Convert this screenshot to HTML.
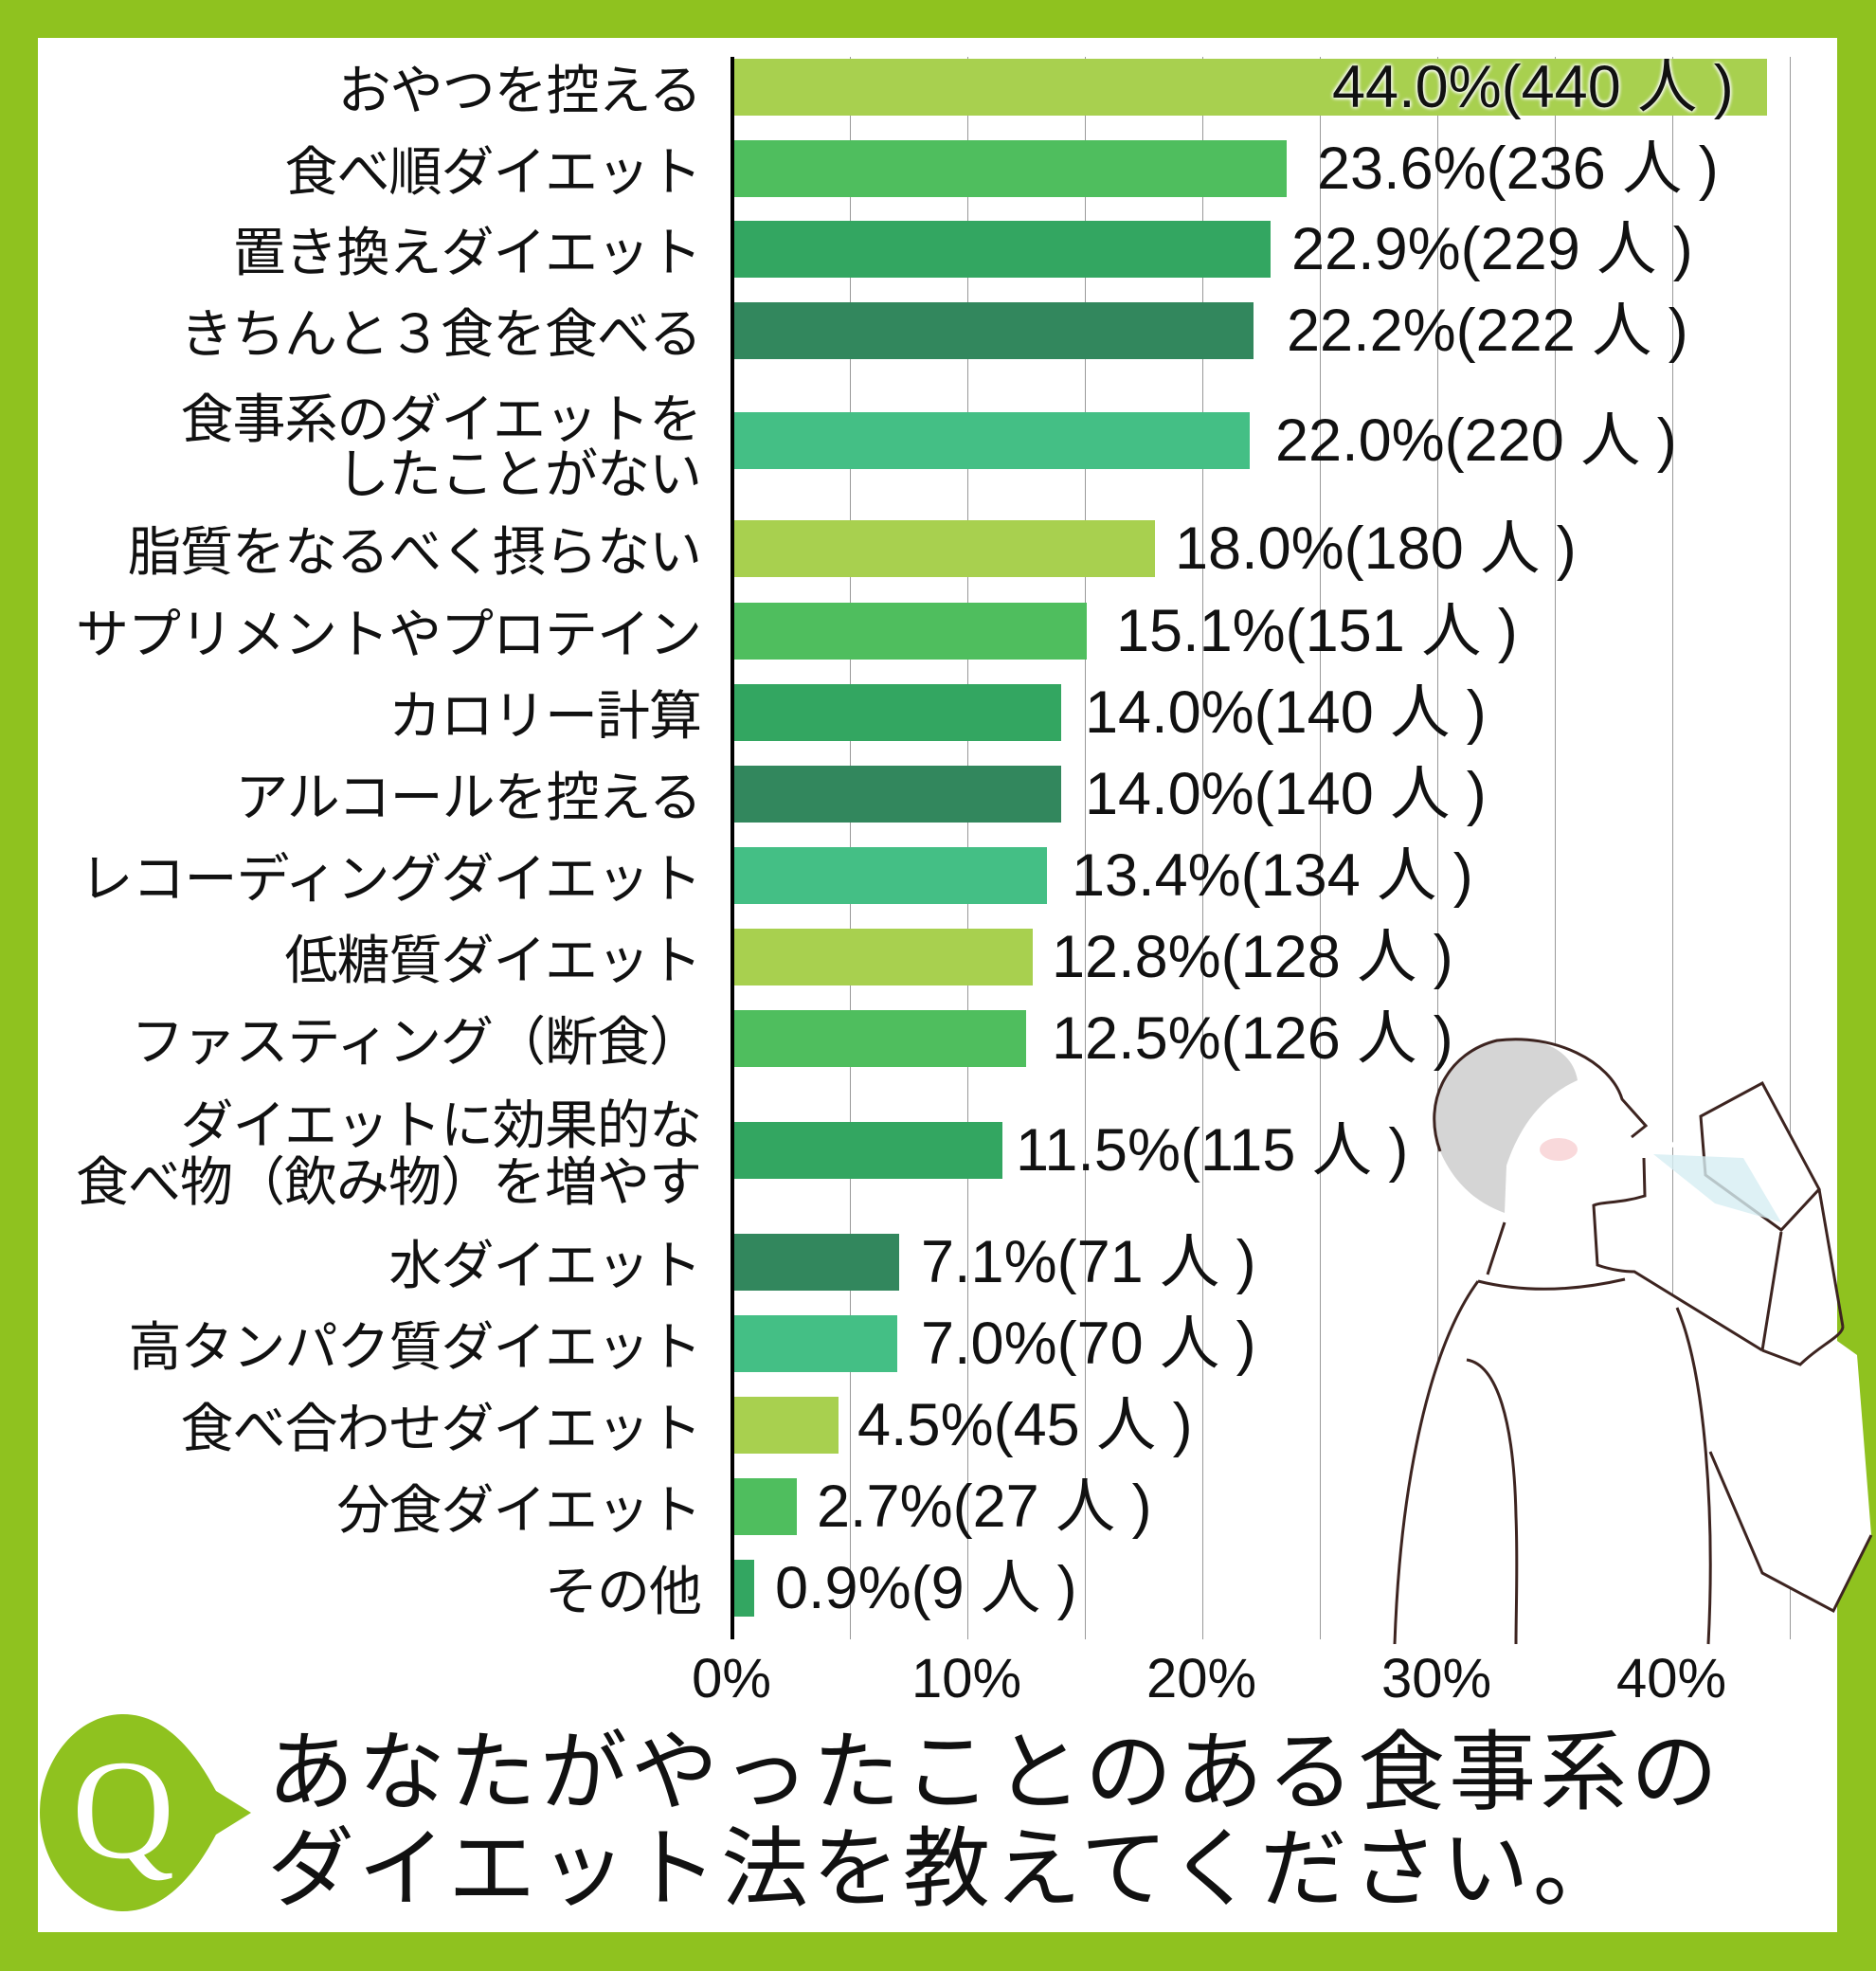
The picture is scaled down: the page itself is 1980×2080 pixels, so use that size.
<!DOCTYPE html>
<html><head><meta charset="utf-8"><style>
body{margin:0;width:1980px;height:2080px;background:#8fc21f;position:relative;overflow:hidden;font-family:"Liberation Sans","Noto Sans CJK JP",sans-serif}
#w{position:absolute;left:40px;top:40px;width:1899px;height:1999px;background:#fff}
.g{position:absolute;top:60px;height:1670px;width:1px;background:#999}
.b{position:absolute;left:775px;height:60px}
.l{position:absolute;right:1240px;font-family:"Noto Sans CJK JP",sans-serif;font-size:56px;line-height:60px;white-space:nowrap;color:#111;text-align:right;letter-spacing:-1px}
.v{position:absolute;font-family:"Liberation Sans","Noto Sans CJK JP",sans-serif;font-size:63px;line-height:60px;white-space:nowrap;color:#111}
.t{position:absolute;top:1742px;font-size:58px;line-height:60px;color:#111;width:160px;text-align:center}
</style></head><body>
<div id="w"></div>
<div class="g" style="left:897px"></div><div class="g" style="left:1021px"></div><div class="g" style="left:1145px"></div><div class="g" style="left:1269px"></div><div class="g" style="left:1393px"></div><div class="g" style="left:1517px"></div><div class="g" style="left:1641px"></div><div class="g" style="left:1765px"></div><div class="g" style="left:1889px"></div>

<div class="b" style="top:62px;width:1090px;background:#a8d04f"></div>
<div class="b" style="top:148px;width:583px;background:#4fbe5e"></div>
<div class="b" style="top:233px;width:566px;background:#33a661"></div>
<div class="b" style="top:319px;width:548px;background:#32875d"></div>
<div class="b" style="top:435px;width:544px;background:#44bf85"></div>
<div class="b" style="top:549px;width:444px;background:#a8d04f"></div>
<div class="b" style="top:636px;width:372px;background:#4fbe5e"></div>
<div class="b" style="top:722px;width:345px;background:#33a661"></div>
<div class="b" style="top:808px;width:345px;background:#32875d"></div>
<div class="b" style="top:894px;width:330px;background:#44bf85"></div>
<div class="b" style="top:980px;width:315px;background:#a8d04f"></div>
<div class="b" style="top:1066px;width:308px;background:#4fbe5e"></div>
<div class="b" style="top:1184px;width:283px;background:#33a661"></div>
<div class="b" style="top:1302px;width:174px;background:#32875d"></div>
<div class="b" style="top:1388px;width:172px;background:#44bf85"></div>
<div class="b" style="top:1474px;width:110px;background:#a8d04f"></div>
<div class="b" style="top:1560px;width:66px;background:#4fbe5e"></div>
<div class="b" style="top:1646px;width:21px;background:#33a661"></div>
<div style="position:absolute;left:771px;top:60px;width:4px;height:1670px;background:#000"></div>

<div class="l" style="top:62px">おやつを控える</div>
<div class="l" style="top:148px">食べ順ダイエット</div>
<div class="l" style="top:233px">置き換えダイエット</div>
<div class="l" style="top:319px">きちんと３食を食べる</div>
<div class="l" style="top:410px;line-height:58px">食事系のダイエットを<br>したことがない</div>
<div class="l" style="top:549px">脂質をなるべく摂らない</div>
<div class="l" style="top:636px">サプリメントやプロテイン</div>
<div class="l" style="top:722px">カロリー計算</div>
<div class="l" style="top:808px">アルコールを控える</div>
<div class="l" style="top:894px">レコーディングダイエット</div>
<div class="l" style="top:980px">低糖質ダイエット</div>
<div class="l" style="top:1066px">ファスティング（断食）</div>
<div class="l" style="top:1154px;line-height:60px">ダイエットに効果的な<br>食べ物（飲み物）を増やす</div>
<div class="l" style="top:1302px">水ダイエット</div>
<div class="l" style="top:1388px">高タンパク質ダイエット</div>
<div class="l" style="top:1474px">食べ合わせダイエット</div>
<div class="l" style="top:1560px">分食ダイエット</div>
<div class="l" style="top:1646px">その他</div>

<svg style="position:absolute;left:0;top:0" width="1980" height="2080">
<path d="M1472,1735 C1478,1560 1510,1420 1560,1352 L1588,1290 C1560,1270 1530,1250 1520,1215 C1500,1160 1530,1110 1580,1098 C1640,1090 1700,1120 1712,1160 L1737,1188 L1720,1200 L1735,1220 L1735,1262 L1682,1272 L1686,1335 L1725,1342 L1860,1420 L1880,1300 L1815,1255 L1840,1222 L1760,1210 L1795,1180 L1860,1143 L1918,1255 L1918,1400 L1960,1430 L1975,1620 L1935,1700 L1860,1660 L1805,1532 L1810,1735 Z" fill="#fff" stroke="none"/>
<path d="M1520,1215 C1500,1160 1530,1110 1580,1098 C1630,1092 1660,1110 1665,1140 C1620,1160 1600,1200 1590,1230 L1588,1280 C1560,1270 1535,1250 1520,1215 Z" fill="#d5d5d5"/>
<g fill="none" stroke="#3d2420" stroke-width="3">
<path d="M1520,1215 C1500,1160 1530,1110 1580,1098 C1640,1090 1700,1120 1712,1160 L1737,1188 L1722,1200"/>
<path d="M1735,1222 L1736,1262 C1710,1270 1690,1268 1682,1272 L1686,1335 C1700,1340 1715,1342 1725,1342 L1860,1425"/>
<path d="M1588,1290 L1570,1345 M1560,1352 C1510,1420 1478,1560 1472,1735"/>
<path d="M1560,1352 C1600,1362 1650,1365 1715,1350"/>
<path d="M1800,1240 L1795,1178 L1860,1143 L1920,1255 L1880,1298 Z"/>
<path d="M1860,1425 L1880,1300 M1920,1255 L1945,1400 M1860,1425 L1900,1440 C1920,1420 1945,1410 1945,1400"/>
<path d="M1805,1532 L1860,1660 L1935,1700 L1975,1620"/>
<path d="M1770,1380 C1800,1450 1810,1600 1803,1735 M1548,1435 C1580,1440 1598,1500 1600,1600 1602,1650 1600,1700 1600,1735"/>
</g>
<path d="M1745,1218 L1840,1222 L1880,1290 L1810,1270 Z" fill="#d6eef2" opacity="0.8"/>
<ellipse cx="1645" cy="1213" rx="20" ry="12" fill="#f6c9cc" opacity="0.7"/>
<path d="M42,1913 C42,1860 80,1809 130,1809 C180,1809 212,1860 228,1890 L265,1913 L228,1936 C212,1966 180,2017 130,2017 C80,2017 42,1966 42,1913 Z" fill="#8fc21f"/>
</svg>
<div style="position:absolute;left:60px;top:1835px;width:140px;text-align:center;font-family:'Liberation Serif',serif;font-size:150px;line-height:150px;color:#fff">Q</div>

<div class="v" style="top:62px;left:1406px;text-shadow:0 0 4px #fff,0 0 4px #fff,0 0 4px #fff">44.0%(440 人 )</div>
<div class="v" style="top:148px;left:1390px">23.6%(236 人 )</div>
<div class="v" style="top:233px;left:1363px">22.9%(229 人 )</div>
<div class="v" style="top:319px;left:1358px">22.2%(222 人 )</div>
<div class="v" style="top:435px;left:1346px">22.0%(220 人 )</div>
<div class="v" style="top:549px;left:1240px">18.0%(180 人 )</div>
<div class="v" style="top:636px;left:1178px">15.1%(151 人 )</div>
<div class="v" style="top:722px;left:1145px">14.0%(140 人 )</div>
<div class="v" style="top:808px;left:1145px">14.0%(140 人 )</div>
<div class="v" style="top:894px;left:1131px">13.4%(134 人 )</div>
<div class="v" style="top:980px;left:1110px">12.8%(128 人 )</div>
<div class="v" style="top:1066px;left:1110px">12.5%(126 人 )</div>
<div class="v" style="top:1184px;left:1072px">11.5%(115 人 )</div>
<div class="v" style="top:1302px;left:972px">7.1%(71 人 )</div>
<div class="v" style="top:1388px;left:972px">7.0%(70 人 )</div>
<div class="v" style="top:1474px;left:905px">4.5%(45 人 )</div>
<div class="v" style="top:1560px;left:862px">2.7%(27 人 )</div>
<div class="v" style="top:1646px;left:818px">0.9%(9 人 )</div>

<div class="t" style="left:692px">0%</div>
<div class="t" style="left:940px">10%</div>
<div class="t" style="left:1188px">20%</div>
<div class="t" style="left:1436px">30%</div>
<div class="t" style="left:1684px">40%</div>

<div style="position:absolute;left:282px;top:1812px;font-family:'Noto Sans CJK JP',sans-serif;font-size:92px;line-height:102px;letter-spacing:4px;color:#111;white-space:nowrap">あなたがやったことのある食事系の<br>ダイエット法を教えてください。</div>
</body></html>
